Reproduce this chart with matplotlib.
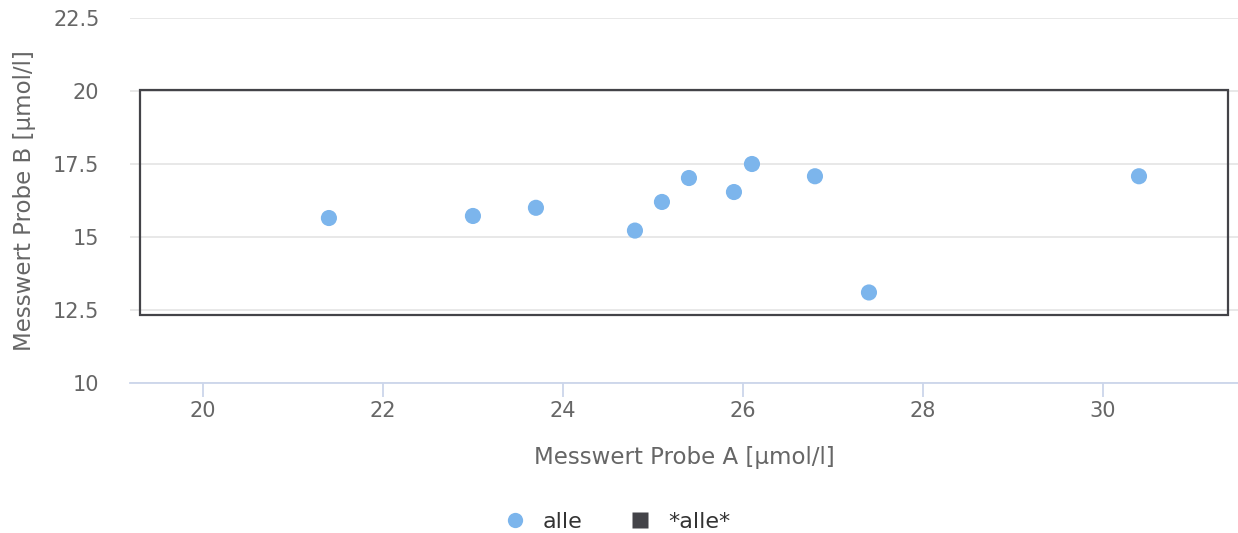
import matplotlib
matplotlib.use("Agg")
import matplotlib.pyplot as plt
from matplotlib.lines import Line2D
from matplotlib.patches import Rectangle

# Data
x_values = [21.4, 23.0, 23.7, 24.8, 25.1, 25.4, 25.9, 26.1, 26.8, 27.4, 30.4]
y_values = [15.65, 15.72, 16.0, 15.22, 16.2, 17.02, 16.54, 17.5, 17.08, 13.1, 17.08]
rect_x = [19.3, 31.39]
rect_y = [12.33, 20.03]
x_ticks = [20, 22, 24, 26, 28, 30]
y_ticks = [10, 12.5, 15, 17.5, 20, 22.5]
y_tick_labels = ["10", "12.5", "15", "17.5", "20", "22.5"]

plt.rcParams['font.family'] = ['DejaVu Sans']

fig = plt.figure(figsize=(12.38, 5.33), dpi=100)
ax = fig.add_axes([130/1238, 150/533, 1108/1238, 365/533])

ax.set_xlim(19.19, 31.5)
ax.set_ylim(10, 22.5)

ax.set_yticks(y_ticks)
ax.set_yticklabels(y_tick_labels)
ax.set_xticks(x_ticks)
ax.grid(axis='y', color='#e6e6e6', linewidth=1.3)
ax.set_axisbelow(True)

for s in ['top', 'right', 'left']:
    ax.spines[s].set_visible(False)
ax.spines['bottom'].set_color('#ccd6eb')
ax.spines['bottom'].set_linewidth(1.3)

ax.tick_params(axis='y', length=0, pad=22, labelsize=15, labelcolor='#666666')
ax.tick_params(axis='x', length=10, width=1.3, color='#ccd6eb', pad=3, labelsize=15, labelcolor='#666666')

rect = Rectangle((rect_x[0], rect_y[0]), rect_x[1]-rect_x[0], rect_y[1]-rect_y[0],
                 fill=False, edgecolor='#434348', linewidth=1.6, zorder=2)
ax.add_patch(rect)

ax.scatter(x_values, y_values, s=135, color='#7cb5ec', edgecolors='none', zorder=3)

ax.set_xlabel("Messwert Probe A [µmol/l]", fontsize=16.5, color='#666666', labelpad=18)
ax.set_ylabel("Messwert Probe B [µmol/l]", fontsize=16.5, color='#666666')
ax.yaxis.set_label_coords(-(130-36)/1108, 0.5)

handles = [
    Line2D([], [], marker='o', linestyle='none', markersize=11, markerfacecolor='#7cb5ec', markeredgecolor='none'),
    Line2D([], [], marker='s', linestyle='none', markersize=11, markerfacecolor='#434348', markeredgecolor='none'),
]
leg = fig.legend(handles, ["alle", "*alle*"], loc='center', bbox_to_anchor=(617/1238, 1 - 522/533),
                 ncol=2, frameon=False, fontsize=16, handletextpad=0.75, columnspacing=2.1,
                 handlelength=1.0)
for t in leg.get_texts():
    t.set_color('#333333')

fig.savefig("out.png", dpi=100)
